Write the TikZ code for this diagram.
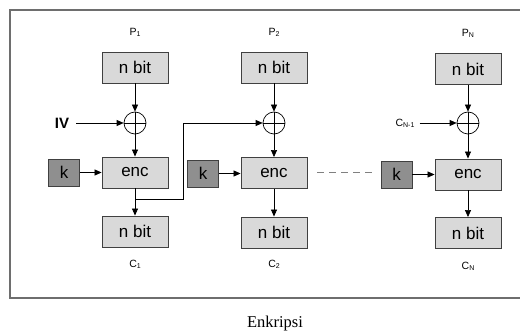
\documentclass[tikz,border=0pt]{standalone}
\usepackage{fontspec}
\setmainfont{Liberation Serif}
\setsansfont{Liberation Sans}
\usetikzlibrary{arrows.meta}
\definecolor{boxfill}{HTML}{D9D9D9}
\definecolor{keyfill}{HTML}{8F8F8F}
\definecolor{boxline}{HTML}{404040}
\definecolor{framecol}{HTML}{6E6E6E}
\begin{document}
\begin{tikzpicture}[x=1pt,y=-1pt,
  bx/.style={draw=boxline, line width=0.9pt, fill=boxfill, minimum width=66, minimum height=31, inner sep=0,
    font=\sffamily\fontsize{17}{17}\selectfont},
  keybox/.style={draw=boxline, line width=0.9pt, fill=keyfill, minimum width=31, minimum height=27, inner sep=0,
    font=\sffamily\fontsize{17}{17}\selectfont},
  xorc/.style={draw=black, line width=0.7pt, circle, minimum size=22, inner sep=0},
  lbl/.style={font=\sffamily\fontsize{10.5}{10.5}\selectfont, inner sep=0},
  arr/.style={draw=black, line width=0.7pt, -{Triangle[length=7pt,width=6pt]}},
  ln/.style={draw=black, line width=0.7pt}
]
\useasboundingbox (0,0) rectangle (520,334);
\draw[framecol, line width=1.5pt] (520,10) -- (10,10) -- (10,298) -- (520,298);

\newcommand{\sbs}[1]{\raisebox{-1.2pt}{\fontsize{7}{7}\selectfont #1}}

% column 1
\node[lbl] (p1) at (135,32) {P\sbs{1}};
\node[bx] (t1) at (135,67.5) {n bit};
\node[xorc] (x1) at (135,123) {};
\node[bx] (e1) at (135,172.5) {enc};
\node[bx] (o1) at (135,231.5) {n bit};
\node[lbl] (c1) at (135,264) {C\sbs{1}};
\node[keybox] (k1) at (64,172.5) {k};
\node[font=\sffamily\bfseries\fontsize{15}{15}\selectfont, inner sep=0] (iv) at (62,123) {IV};

% column 2
\node[lbl] (p2) at (274,32) {P\sbs{2}};
\node[bx] (t2) at (274,67.5) {n bit};
\node[xorc] (x2) at (274,123) {};
\node[bx] (e2) at (274,173) {enc};
\node[bx] (o2) at (274,232.5) {n bit};
\node[lbl] (c2) at (274,264) {C\sbs{2}};
\node[keybox] (k2) at (203,173.5) {k};

% column 3
\node[lbl] (p3) at (468,33) {P\sbs{N}};
\node[bx] (t3) at (468,69) {n bit};
\node[xorc] (x3) at (468,123) {};
\node[bx] (e3) at (468,174.5) {enc};
\node[bx] (o3) at (468,233) {n bit};
\node[lbl] (c3) at (468,266) {C\sbs{N}};
\node[keybox] (k3) at (396.5,174.5) {k};
\node[lbl] (cn1) at (405,123) {C\sbs{N-1}};

% xor crosses
\foreach \x in {x1,x2,x3}{
  \draw[ln] (\x.north) -- (\x.south);
  \draw[ln] (\x.west) -- (\x.east);
}

% arrows
\draw[arr] (t1) -- (x1);
\draw[arr] (x1) -- (e1);
\draw[arr] (e1) -- (o1);
\draw[arr] (k1) -- (e1);
\draw[arr] (iv.east) ++(7,0) coordinate (ivs) (ivs) -- (x1.west);

\draw[arr] (t2) -- (x2);
\draw[arr] (x2) -- (e2);
\draw[arr] (e2) -- (o2);
\draw[arr] (k2) -- (e2.west |- k2);

\draw[arr] (t3) -- (x3);
\draw[arr] (x3) -- (e3);
\draw[arr] (e3) -- (o3);
\draw[arr] (k3) -- (e3);
\draw[arr] (cn1.east) ++(5,0) coordinate (cns) (cns) -- (x3.west);

% feedback
\coordinate (fb) at (135,199);
\coordinate (fbc) at (183,199);
\draw[ln, -{Triangle[length=7pt,width=6pt]}] (fb) -- (fbc) |- (x2.west);

% dashed
\coordinate (d1) at (317,173);
\coordinate (d2) at (372,173);
\draw[gray, line width=1pt, dash pattern=on 7pt off 5pt] (d1) -- (d2);

\node[font=\fontsize{16.5}{16.5}\selectfont, inner sep=0] (cap) at (275,324) {Enkripsi};
\end{tikzpicture}
\end{document}
